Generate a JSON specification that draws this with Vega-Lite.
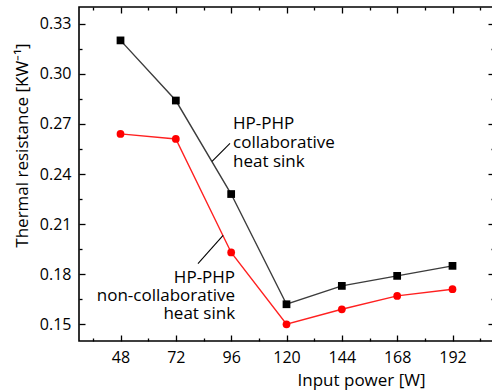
{
  "$schema": "https://vega.github.io/schema/vega-lite/v6.json",
  "width": 415,
  "height": 334,
  "autosize": {"type": "none"},
  "padding": {"left": 79, "top": 7, "right": 0, "bottom": 51},
  "config": {
    "font": "Open Sans",
    "view": {"stroke": "#000000", "strokeWidth": 1.6},
    "axis": {
      "domain": false, "grid": false,
      "labelFont": "Open Sans", "titleFont": "Open Sans",
      "labelFontSize": 16, "titleFontSize": 17, "titleFontWeight": "normal",
      "labelColor": "#000000", "titleColor": "#000000",
      "tickColor": "#000000", "tickWidth": 1.3
    }
  },
  "datasets": {
    "series": [
      {"power": 48, "r": 0.320, "s": "collab"},
      {"power": 72, "r": 0.284, "s": "collab"},
      {"power": 96, "r": 0.228, "s": "collab"},
      {"power": 120, "r": 0.162, "s": "collab"},
      {"power": 144, "r": 0.173, "s": "collab"},
      {"power": 168, "r": 0.179, "s": "collab"},
      {"power": 192, "r": 0.185, "s": "collab"},
      {"power": 48, "r": 0.264, "s": "non"},
      {"power": 72, "r": 0.261, "s": "non"},
      {"power": 96, "r": 0.193, "s": "non"},
      {"power": 120, "r": 0.150, "s": "non"},
      {"power": 144, "r": 0.159, "s": "non"},
      {"power": 168, "r": 0.167, "s": "non"},
      {"power": 192, "r": 0.171, "s": "non"}
    ],
    "notes": [
      {"x": 96.8, "y": 0.2668, "t": "HP-PHP", "a": "left"},
      {"x": 96.8, "y": 0.2554, "t": "collaborative", "a": "left"},
      {"x": 96.8, "y": 0.2440, "t": "heat sink", "a": "left"},
      {"x": 97.7, "y": 0.1750, "t": "HP-PHP", "a": "right"},
      {"x": 97.7, "y": 0.1642, "t": "non-collaborative", "a": "right"},
      {"x": 97.7, "y": 0.1534, "t": "heat sink", "a": "right"}
    ],
    "leaders": [
      {"x": 87.7, "y": 0.2476, "x2": 95.5, "y2": 0.2584},
      {"x": 81.6, "y": 0.1864, "x2": 92.5, "y2": 0.2032}
    ]
  },
  "layer": [
    {
      "data": {"name": "series"},
      "transform": [{"filter": "datum.s == 'collab'"}],
      "mark": {"type": "line", "color": "#3c3c3c", "strokeWidth": 1.4},
      "encoding": {
        "x": {"field": "power", "type": "quantitative",
          "scale": {"domain": [30, 210], "nice": false, "zero": false},
          "axis": {
            "orient": "bottom",
            "values": [48, 72, 96, 120, 144, 168, 192],
            "tickSize": -6,
            "labelPadding": 14,
            "title": "Input power [W]",
            "titleX": 282, "titleY": 44, "titleAnchor": null, "titleAlign": "center", "titleBaseline": "alphabetic"
          }
        },
        "y": {"field": "r", "type": "quantitative",
          "scale": {"domain": [0.14, 0.34], "nice": false, "zero": false},
          "axis": {
            "orient": "left",
            "values": [0.15, 0.18, 0.21, 0.24, 0.27, 0.3, 0.33],
            "format": ".2f",
            "tickSize": -6,
            "labelPadding": 14,
            "title": "Thermal resistance [KW⁻¹]",
            "titleX": -52, "titleY": 138, "titleAngle": -90, "titleAlign": "center", "titleBaseline": "alphabetic"
          }
        }
      }
    },
    {
      "data": {"name": "series"},
      "transform": [{"filter": "datum.s == 'non'"}],
      "mark": {"type": "line", "color": "#ff2020", "strokeWidth": 1.4},
      "encoding": {
        "x": {"field": "power", "type": "quantitative",
          "axis": {
            "orient": "top",
            "values": [48, 72, 96, 120, 144, 168, 192],
            "tickSize": -6,
            "labels": false, "title": null
          }
        },
        "y": {"field": "r", "type": "quantitative",
          "axis": {
            "orient": "right",
            "values": [0.15, 0.18, 0.21, 0.24, 0.27, 0.3, 0.33],
            "tickSize": -6,
            "labels": false, "title": null
          }
        }
      }
    },
    {
      "data": {"name": "series"},
      "transform": [{"filter": "datum.s == 'collab'"}],
      "mark": {"type": "point", "shape": "square", "filled": true, "color": "#000000", "size": 60, "opacity": 1},
      "encoding": {
        "x": {"field": "power", "type": "quantitative",
          "axis": {
            "orient": "bottom",
            "values": [36, 60, 84, 108, 132, 156, 180, 204],
            "tickSize": -3,
            "labels": false, "title": null
          }
        },
        "y": {"field": "r", "type": "quantitative",
          "axis": {
            "orient": "left",
            "values": [0.165, 0.195, 0.225, 0.255, 0.285, 0.315],
            "tickSize": -3,
            "labels": false, "title": null
          }
        }
      }
    },
    {
      "data": {"name": "series"},
      "transform": [{"filter": "datum.s == 'non'"}],
      "mark": {"type": "point", "shape": "circle", "filled": true, "color": "#ff0000", "size": 60, "opacity": 1},
      "encoding": {
        "x": {"field": "power", "type": "quantitative",
          "axis": {
            "orient": "top",
            "values": [36, 60, 84, 108, 132, 156, 180, 204],
            "tickSize": -3,
            "labels": false, "title": null
          }
        },
        "y": {"field": "r", "type": "quantitative",
          "axis": {
            "orient": "right",
            "values": [0.165, 0.195, 0.225, 0.255, 0.285, 0.315],
            "tickSize": -3,
            "labels": false, "title": null
          }
        }
      }
    },
    {
      "data": {"name": "leaders"},
      "mark": {"type": "rule", "color": "#000000", "strokeWidth": 1.1},
      "encoding": {
        "x": {"field": "x", "type": "quantitative", "axis": null},
        "y": {"field": "y", "type": "quantitative", "axis": null},
        "x2": {"field": "x2"},
        "y2": {"field": "y2"}
      }
    },
    {
      "data": {"name": "notes"},
      "transform": [{"filter": "datum.a == 'left'"}],
      "mark": {"type": "text", "font": "Open Sans", "fontSize": 17, "color": "#000000", "baseline": "alphabetic", "align": "left"},
      "encoding": {
        "x": {"field": "x", "type": "quantitative", "axis": null},
        "y": {"field": "y", "type": "quantitative", "axis": null},
        "text": {"field": "t"}
      }
    },
    {
      "data": {"name": "notes"},
      "transform": [{"filter": "datum.a == 'right'"}],
      "mark": {"type": "text", "font": "Open Sans", "fontSize": 17, "color": "#000000", "baseline": "alphabetic", "align": "right"},
      "encoding": {
        "x": {"field": "x", "type": "quantitative", "axis": null},
        "y": {"field": "y", "type": "quantitative", "axis": null},
        "text": {"field": "t"}
      }
    }
  ],
  "resolve": {"axis": {"x": "independent", "y": "independent"}}
}
